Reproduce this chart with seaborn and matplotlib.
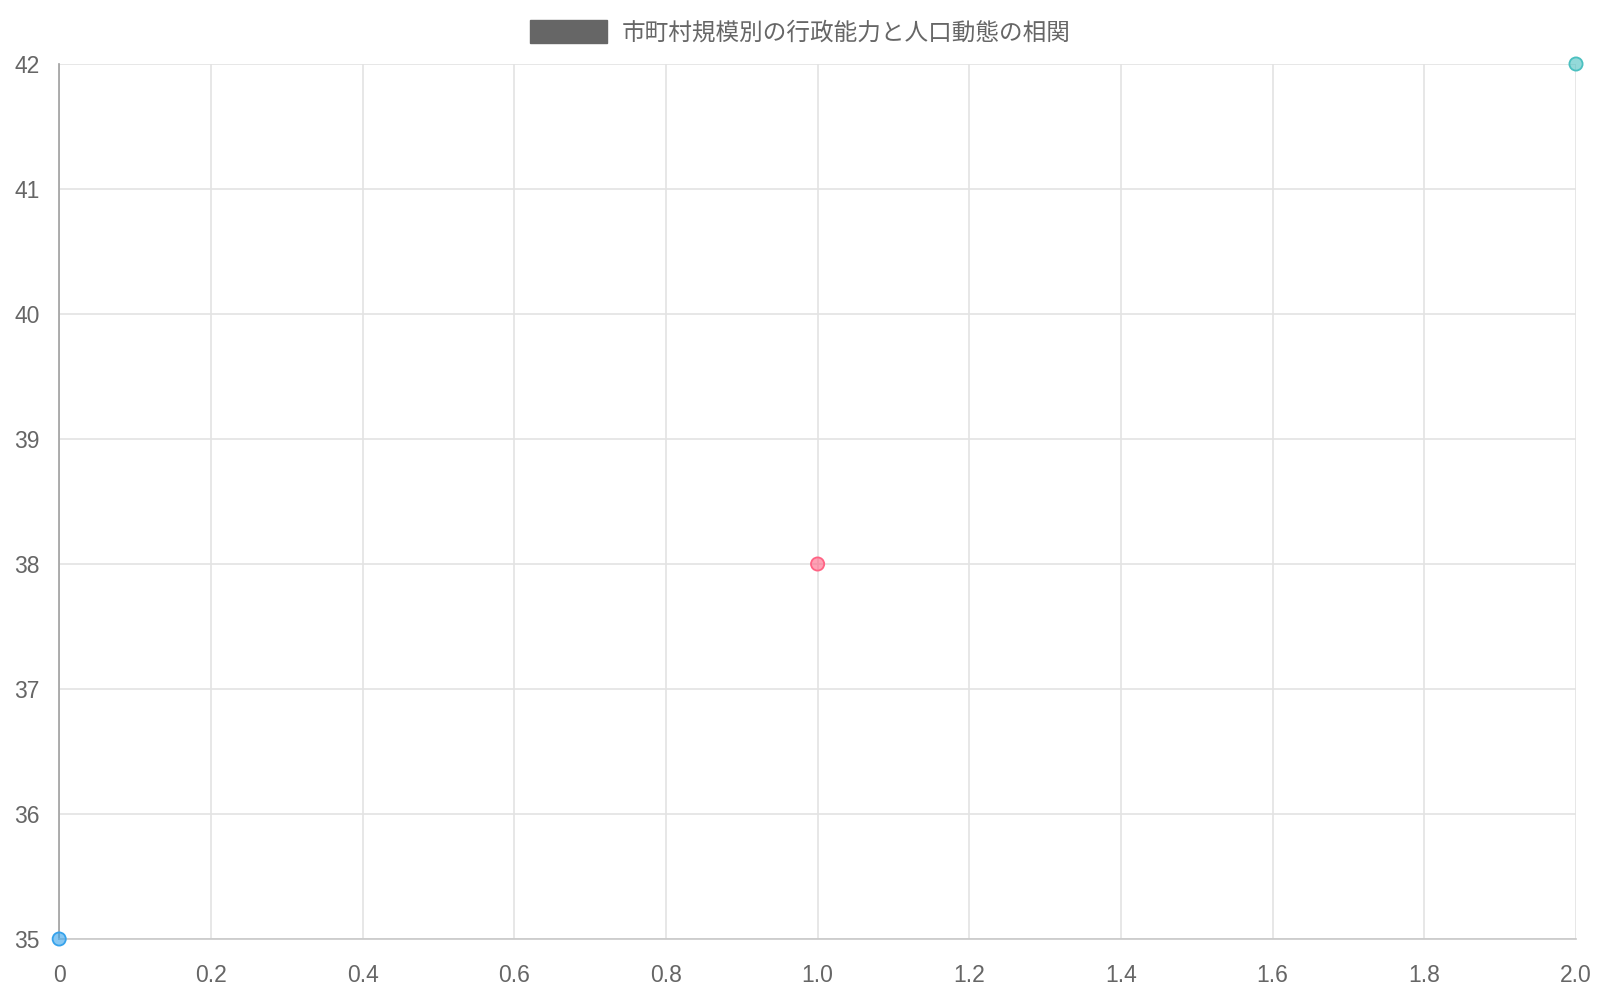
import matplotlib
matplotlib.use("Agg")
import matplotlib.pyplot as plt
import matplotlib.patches as mpatches
import seaborn as sns
import pandas as pd

# data
x_vals = [0, 1, 2]
y_vals = [35, 38, 42]
groups = ["a", "b", "c"]
point_colors = ["#36A2EB", "#FF6384", "#4BC0C0"]
title_label = "市町村規模別の行政能力と人口動態の相関"

sns.set_theme(style="white")
plt.rcParams["font.family"] = ["Liberation Sans", "Noto Sans CJK JP", "DejaVu Sans"]

df = pd.DataFrame({"x": x_vals, "y": y_vals, "g": groups})

fig = plt.figure(figsize=(16, 10), dpi=100)
ax = fig.add_axes([0.037, 0.061, 0.948, 0.875])

palette = dict(zip(groups, point_colors))
sns.scatterplot(data=df, x="x", y="y", hue="g", palette=palette, s=90,
                alpha=0.6, edgecolor="none", ax=ax, legend=False, zorder=4, clip_on=False)
# solid outline around each point
ax.scatter(df["x"], df["y"], s=90, facecolors="none",
           edgecolors=point_colors, linewidths=1.3, zorder=5, clip_on=False)

ax.set_xlim(0, 2)
ax.set_ylim(35, 42)
ax.set_xticks([0, 0.2, 0.4, 0.6, 0.8, 1.0, 1.2, 1.4, 1.6, 1.8, 2.0])
ax.set_xticklabels(["0", "0.2", "0.4", "0.6", "0.8", "1.0", "1.2", "1.4", "1.6", "1.8", "2.0"])
ax.set_yticks(range(35, 43))
ax.grid(True, color="#e3e3e3", linewidth=1.2)
ax.set_axisbelow(True)
ax.set_xlabel("")
ax.set_ylabel("")

for side in ["top", "right"]:
    ax.spines[side].set_visible(False)
ax.spines["left"].set_color("#a0a0a0")
ax.spines["bottom"].set_color("#c8c8c8")
ax.spines["left"].set_linewidth(1.2)
ax.spines["bottom"].set_linewidth(1.2)

ax.tick_params(axis="both", colors="#e3e3e3", labelcolor="#666666",
               labelsize=16.5, length=8, width=1.2, pad=6, direction="out")
ax.tick_params(axis="x", pad=10)

handle = mpatches.Rectangle((0, 0), 1, 1, facecolor="#666666", edgecolor="#666666")
fig.legend([handle], [title_label], loc="center", bbox_to_anchor=(0.5, 0.968),
           frameon=False, handlelength=3.3, handleheight=1.15, handletextpad=0.6,
           fontsize=17, labelcolor="#666666")

fig.savefig("out.png", dpi=100, facecolor="white")
